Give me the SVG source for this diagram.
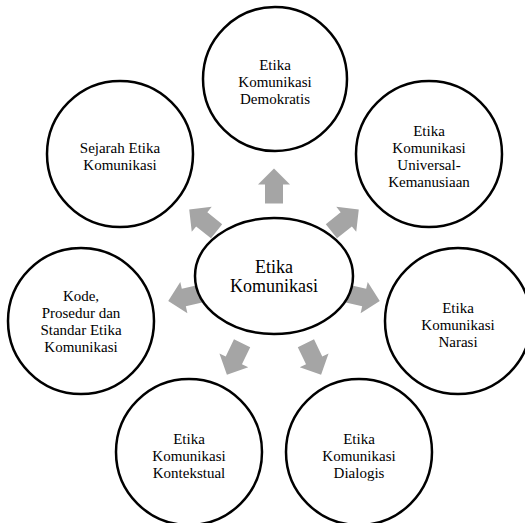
<svg xmlns="http://www.w3.org/2000/svg" width="525" height="523" viewBox="0 0 525 523">
<defs>
<style>
.node{fill:#ffffff;stroke:#000000;stroke-width:2.5}
text{font-family:'Liberation Serif','Times New Roman','DejaVu Serif',serif;fill:#000000;text-anchor:middle}
.t{font-size:15px}
.tc{font-size:18px}
.arr{fill:#a5a5a5}
</style>
<polygon id="arrow" points="0,-17.5 16,-1.5 9,-1.5 9,17.5 -9,17.5 -9,-1.5 -16,-1.5"/>
</defs>
<rect width="525" height="523" fill="#ffffff"/>
<g id="connectors" class="arr">
<use href="#arrow" transform="translate(274,186) rotate(0)"/>
<use href="#arrow" transform="translate(345.1,220.3) rotate(51.43)"/>
<use href="#arrow" transform="translate(362.7,297.2) rotate(102.86)"/>
<use href="#arrow" transform="translate(313.5,359) rotate(154.29)"/>
<use href="#arrow" transform="translate(234.5,359) rotate(205.71)"/>
<use href="#arrow" transform="translate(185.3,297.2) rotate(257.14)"/>
<use href="#arrow" transform="translate(202.9,220.3) rotate(308.57)"/>
</g>
<g id="center">
<ellipse class="node" cx="274" cy="276" rx="79" ry="58"/>
<text class="tc" x="274" y="273" font-family="Liberation Serif, serif">Etika</text>
<text class="tc" x="274" y="292" font-family="Liberation Serif, serif">Komunikasi</text>
</g>
<g id="n-demokratis">
<circle class="node" cx="275" cy="79" r="72"/>
<text class="t" x="275" y="70">Etika</text>
<text class="t" x="275" y="87">Komunikasi</text>
<text class="t" x="275" y="104">Demokratis</text>
</g>
<g id="n-universal">
<circle class="node" cx="429" cy="154" r="73"/>
<text class="t" x="429" y="136">Etika</text>
<text class="t" x="429" y="153">Komunikasi</text>
<text class="t" x="429" y="170">Universal-</text>
<text class="t" x="429" y="187">Kemanusiaan</text>
</g>
<g id="n-narasi">
<circle class="node" cx="458" cy="321" r="73"/>
<text class="t" x="458" y="313">Etika</text>
<text class="t" x="458" y="330">Komunikasi</text>
<text class="t" x="458" y="347">Narasi</text>
</g>
<g id="n-dialogis">
<circle class="node" cx="359" cy="452" r="73"/>
<text class="t" x="359" y="444">Etika</text>
<text class="t" x="359" y="461">Komunikasi</text>
<text class="t" x="359" y="478">Dialogis</text>
</g>
<g id="n-kontekstual">
<circle class="node" cx="189" cy="452" r="73"/>
<text class="t" x="189" y="444">Etika</text>
<text class="t" x="189" y="461">Komunikasi</text>
<text class="t" x="189" y="478">Kontekstual</text>
</g>
<g id="n-kode">
<circle class="node" cx="81" cy="321" r="73"/>
<text class="t" x="81" y="301">Kode,</text>
<text class="t" x="81" y="318">Prosedur dan</text>
<text class="t" x="81" y="335">Standar Etika</text>
<text class="t" x="81" y="352">Komunikasi</text>
</g>
<g id="n-sejarah">
<circle class="node" cx="120" cy="154" r="73"/>
<text class="t" x="120" y="153">Sejarah Etika</text>
<text class="t" x="120" y="170">Komunikasi</text>
</g>
</svg>
